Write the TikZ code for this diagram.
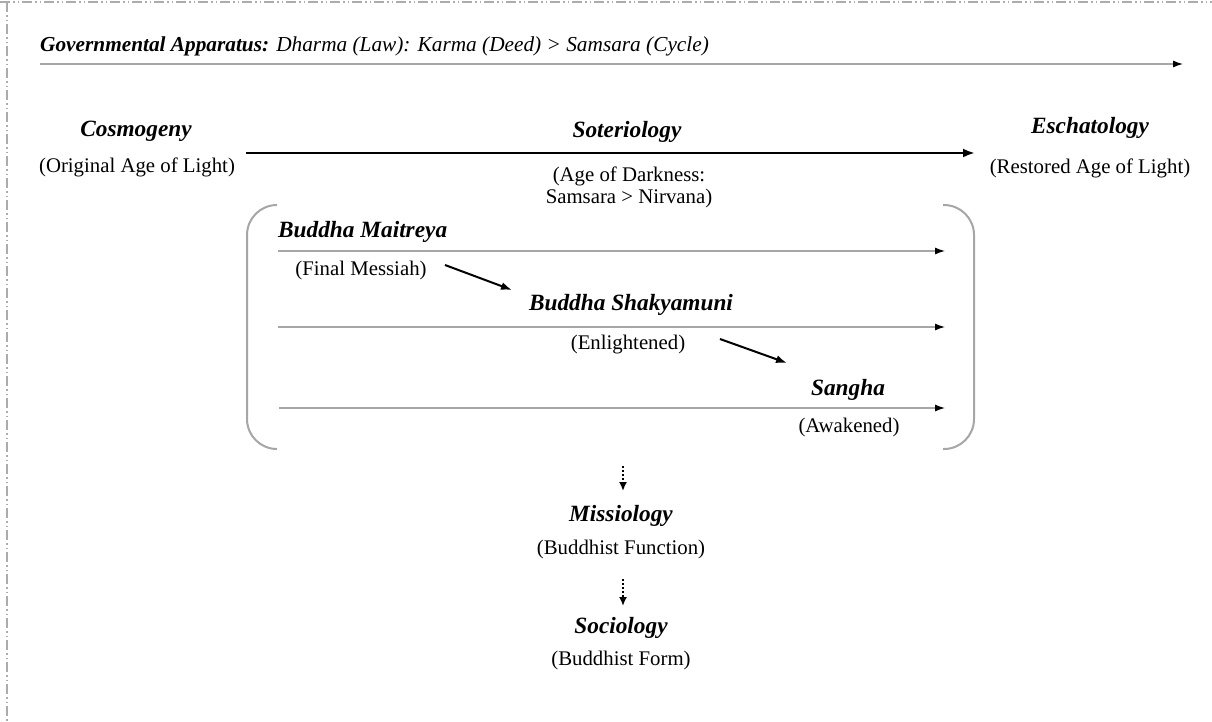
\documentclass[tikz,border=0pt]{standalone}
\usepackage{fontspec}
\setmainfont{Liberation Serif}
\usetikzlibrary{arrows.meta}

\tikzset{
  txt/.style={inner sep=0pt, font=\fontsize{20.8}{23}\selectfont},
  head/.style={inner sep=0pt, font=\fontsize{23.3}{26}\selectfont\bfseries\itshape},
  frameline/.style={draw=gray!65, line width=1.3pt,
    dash pattern=on 10pt off 3pt on 1.5pt off 3pt on 1.5pt off 3pt},
  flowline/.style={draw=gray!70, line width=1.2pt,
    -{Latex[length=10pt,width=7pt,color=black]}},
  mainflow/.style={draw=black, line width=2.6pt,
    -{Latex[length=12pt,width=9pt]}},
  passflow/.style={draw=black, line width=2pt,
    -{Latex[length=11pt,width=8pt]}},
  derive/.style={draw=black, line width=2.4pt, dash pattern=on 2.2pt off 1.8pt,
    -{Latex[length=9pt,width=8pt]}},
  paren/.style={draw=gray!70, line width=2pt, rounded corners=30pt},
}

\begin{document}
\begin{tikzpicture}[x=1pt,y=-1pt]
\useasboundingbox (0,0) rectangle (1212,721);

% page frame (top and left edges)
\draw[frameline] (0,2) -- (1212,2);
\draw[frameline] (7,2) -- (7,721);

% governing principle
\node[txt, anchor=base west, font=\fontsize{21.3}{24}\selectfont] (gov) at (40,51)
  {\textbf{\textit{Governmental Apparatus:}} \textit{Dharma (Law): Karma (Deed) > Samsara (Cycle)}};
\coordinate (govA) at (40,64);
\coordinate (govB) at (1183,64);
\draw[flowline] (govA) -- (govB);

% the three ages
\node[head] (cosmo) at (136,131) {Cosmogeny};
\node[txt] (cosmosub) at (137,167) {(Original Age of Light)};
\node[head] (soter) at (627,132) {Soteriology};
\node[head] (escha) at (1090,128) {Eschatology};
\node[txt] (eschasub) at (1090,168) {(Restored Age of Light)};
\coordinate (soterA) at (246,153);
\coordinate (soterB) at (975,153);
\draw[mainflow] (soterA) -- (soterB);
\node[txt, align=center] (dark) at (629,187.5) {(Age of Darkness:\\[-1pt]Samsara > Nirvana)};

% brackets round the three ways
\draw[paren] (277,205) -- (247,205) -- (247,449) -- (277,449);
\draw[paren] (943,205) -- (974,205) -- (974,449) -- (943,449);

% Buddha Maitreya
\node[head, anchor=west] (maitreya) at (278,232) {Buddha Maitreya};
\coordinate (lineAa) at (278,251);
\coordinate (lineAb) at (945,251);
\draw[flowline] (lineAa) -- (lineAb);
\node[txt] (messiah) at (361,270) {(Final Messiah)};

% Buddha Shakyamuni
\node[head] (shakya) at (631,305) {Buddha Shakyamuni};
\coordinate (lineBa) at (278,327);
\coordinate (lineBb) at (945,327);
\draw[flowline] (lineBa) -- (lineBb);
\node[txt] (enlight) at (628,345) {(Enlightened)};

% Sangha
\node[head] (sangha) at (848,390) {Sangha};
\coordinate (lineCa) at (279,408);
\coordinate (lineCb) at (945,408);
\draw[flowline] (lineCa) -- (lineCb);
\node[txt] (awake) at (849,427) {(Awakened)};

% succession arrows
\coordinate (passAa) at (445,265);
\coordinate (passAb) at (512,290);
\draw[passflow] (passAa) -- (passAb);
\coordinate (passBa) at (720,339);
\coordinate (passBb) at (787,363);
\draw[passflow] (passBa) -- (passBb);

% mission and form
\node[head] (missio) at (621,516) {Missiology};
\node[txt] (function) at (621,549) {(Buddhist Function)};
\node[head] (socio) at (621,628) {Sociology};
\node[txt] (form) at (621,660) {(Buddhist Form)};
\coordinate (dropA) at (623,466);
\coordinate (dropB) at (623,491);
\coordinate (dropC) at (623,579);
\coordinate (dropD) at (623,606);
\draw[derive] (dropA) -- (dropB);
\draw[derive] (dropC) -- (dropD);
\end{tikzpicture}
\end{document}
